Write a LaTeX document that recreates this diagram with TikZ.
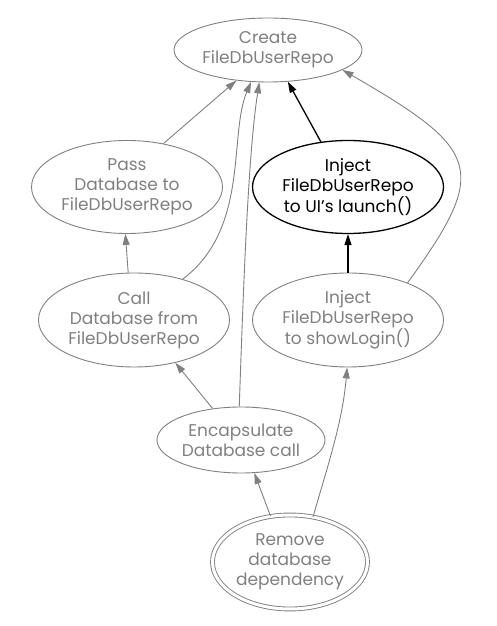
\documentclass[tikz,border=0pt]{standalone}
\usepackage{fontspec}
\setmainfont{Poppins}
\usetikzlibrary{shapes.geometric,arrows.meta}
\definecolor{mikgray}{RGB}{128,128,128}
\begin{document}
\begin{tikzpicture}[
  x=1pt, y=1pt,
  goal/.style={ellipse, draw=#1, text=#1, line width=0.9pt, inner sep=0pt,
               align=center, font=\fontsize{17}{20}\selectfont},
  goal/.default=mikgray,
  dep/.style={-{Triangle[length=11pt,width=7pt]}, line width=0.9pt, draw=#1},
  dep/.default=mikgray
]
  \useasboundingbox (0,0) rectangle (496,626);
  % Goal
  \node[goal, minimum width=188pt, minimum height=64pt] (create) at (268,576)
    {Create\\FileDbUserRepo};
  % Prerequisites
  \node[goal, minimum width=191pt, minimum height=93pt] (pass) at (127,439)
    {Pass\\Database to\\FileDbUserRepo};
  \node[goal=black, line width=1.3pt, minimum width=191pt, minimum height=93pt] (launch) at (348,439)
    {Inject\\FileDbUserRepo\\to UI's launch()};
  \node[goal, minimum width=191pt, minimum height=94pt] (call) at (134,306)
    {Call\\Database from\\FileDbUserRepo};
  \node[goal, minimum width=191pt, minimum height=94pt] (login) at (348,306)
    {Inject\\FileDbUserRepo\\to showLogin()};
  \node[goal, minimum width=168pt, minimum height=66pt] (encap) at (241,186)
    {Encapsulate\\Database call};
  % Root
  \node[goal, double, double distance=3pt, minimum width=155pt, minimum height=94pt] (remove) at (290,64)
    {Remove\\database\\dependency};
  % Straight dependencies
  \foreach \a/\b in {pass.50/create.224, call.97/pass.268,
                     encap.132/call.314, remove.113/encap.292} {
    \draw[dep] (\a) -- (\b);
  }
  % Curved dependencies
  \draw[dep] (call.40) .. controls +(37:84) and +(247:58) .. (create.242);
  \draw[dep] (encap.93) .. controls +(88:111) and +(261:73) .. (create.255);
  \draw[dep] (remove.63) .. controls +(74:55) and +(265:55) .. (login.269);
  \draw[dep] (login.32) .. controls +(54:140) and +(330:160) .. (create.345);
  % Active path
  \draw[dep=black, line width=1.3pt] (login) -- (launch);
  \draw[dep=black, line width=1.3pt] (launch.121) -- (create.302);
\end{tikzpicture}
\end{document}
